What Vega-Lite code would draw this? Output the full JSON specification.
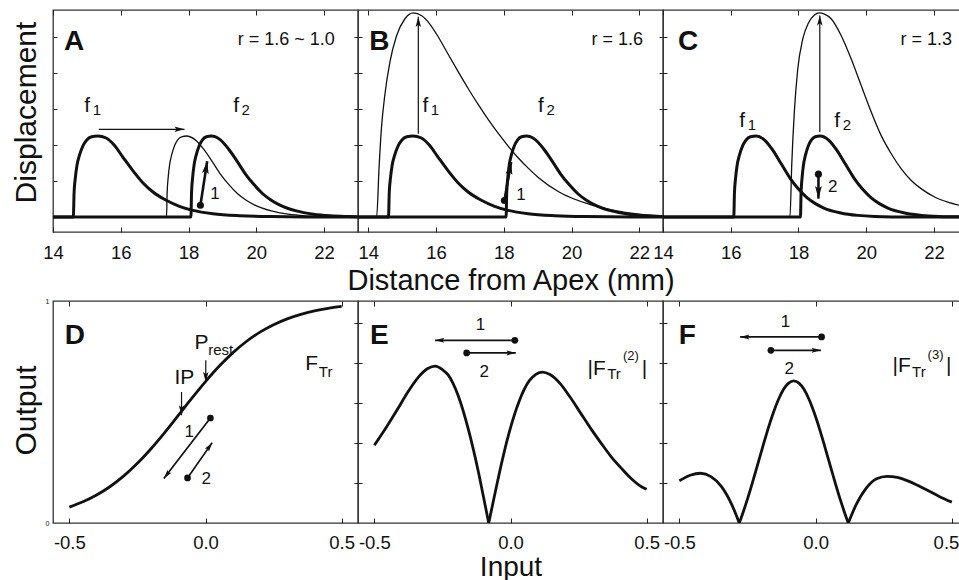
{
"$schema": "https://vega.github.io/schema/vega-lite/v6.json",
"padding": {"left": 10, "top": 8, "right": 0, "bottom": 0},
"autosize": {"type": "pad"},
"background": "white",
"columns": 3,
"spacing": {"row": 69, "column": 0},
"bounds": "flush",
"config": {
  "view": {"stroke": "#333", "strokeWidth": 1.3},
  "font": "Liberation Sans",
  "text": {"font": "Liberation Sans"},
  "axis": {"labelFont": "Liberation Sans", "titleFont": "Liberation Sans", "labelColor": "#111", "titleColor": "#111", "tickColor": "#222", "titleFontWeight": "normal", "grid": false, "domain": false, "labelFontSize": 18.5, "titleFontSize": 30, "labelFlush": false, "labelOverlap": false}
},
"datasets": {
"top": [
{"panel":"A","curve":"f1","state":"reference","x":14,"y":0},{"panel":"A","curve":"f1","state":"reference","x":14.6,"y":0},{"panel":"A","curve":"f1","state":"reference","x":14.622,"y":0.675},{"panel":"A","curve":"f1","state":"reference","x":14.658,"y":1.08},{"panel":"A","curve":"f1","state":"reference","x":14.708,"y":1.44},{"panel":"A","curve":"f1","state":"reference","x":14.78,"y":1.71},{"panel":"A","curve":"f1","state":"reference","x":14.888,"y":1.98},{"panel":"A","curve":"f1","state":"reference","x":14.996,"y":2.138},{"panel":"A","curve":"f1","state":"reference","x":15.14,"y":2.228},{"panel":"A","curve":"f1","state":"reference","x":15.32,"y":2.25},{"panel":"A","curve":"f1","state":"reference","x":15.57,"y":2.194},{"panel":"A","curve":"f1","state":"reference","x":15.81,"y":1.991},{"panel":"A","curve":"f1","state":"reference","x":16.06,"y":1.665},{"panel":"A","curve":"f1","state":"reference","x":16.35,"y":1.296},{"panel":"A","curve":"f1","state":"reference","x":16.65,"y":0.954},{"panel":"A","curve":"f1","state":"reference","x":16.95,"y":0.695},{"panel":"A","curve":"f1","state":"reference","x":17.34,"y":0.464},{"panel":"A","curve":"f1","state":"reference","x":17.73,"y":0.297},{"panel":"A","curve":"f1","state":"reference","x":18.13,"y":0.185},{"panel":"A","curve":"f1","state":"reference","x":18.72,"y":0.092},{"panel":"A","curve":"f1","state":"reference","x":19.51,"y":0.036},{"panel":"A","curve":"f1","state":"reference","x":20.39,"y":0.011},{"panel":"A","curve":"f1","state":"reference","x":21.82,"y":0},{"panel":"A","curve":"f1","state":"reference","x":23,"y":0},
{"panel":"A","curve":"f2","state":"reference","x":14,"y":0},{"panel":"A","curve":"f2","state":"reference","x":18.07,"y":0},{"panel":"A","curve":"f2","state":"reference","x":18.088,"y":0.675},{"panel":"A","curve":"f2","state":"reference","x":18.119,"y":1.08},{"panel":"A","curve":"f2","state":"reference","x":18.162,"y":1.44},{"panel":"A","curve":"f2","state":"reference","x":18.223,"y":1.71},{"panel":"A","curve":"f2","state":"reference","x":18.314,"y":1.98},{"panel":"A","curve":"f2","state":"reference","x":18.406,"y":2.138},{"panel":"A","curve":"f2","state":"reference","x":18.528,"y":2.228},{"panel":"A","curve":"f2","state":"reference","x":18.68,"y":2.25},{"panel":"A","curve":"f2","state":"reference","x":18.93,"y":2.149},{"panel":"A","curve":"f2","state":"reference","x":19.18,"y":1.89},{"panel":"A","curve":"f2","state":"reference","x":19.43,"y":1.553},{"panel":"A","curve":"f2","state":"reference","x":19.68,"y":1.193},{"panel":"A","curve":"f2","state":"reference","x":19.93,"y":0.9},{"panel":"A","curve":"f2","state":"reference","x":20.18,"y":0.653},{"panel":"A","curve":"f2","state":"reference","x":20.43,"y":0.473},{"panel":"A","curve":"f2","state":"reference","x":20.68,"y":0.338},{"panel":"A","curve":"f2","state":"reference","x":21.18,"y":0.169},{"panel":"A","curve":"f2","state":"reference","x":21.68,"y":0.079},{"panel":"A","curve":"f2","state":"reference","x":22.18,"y":0.034},{"panel":"A","curve":"f2","state":"reference","x":22.68,"y":0.014},{"panel":"A","curve":"f2","state":"reference","x":23,"y":0.006},
{"panel":"A","curve":"f1s","state":"altered","x":14,"y":0},{"panel":"A","curve":"f1s","state":"altered","x":17.35,"y":0},{"panel":"A","curve":"f1s","state":"altered","x":17.368,"y":0.675},{"panel":"A","curve":"f1s","state":"altered","x":17.397,"y":1.08},{"panel":"A","curve":"f1s","state":"altered","x":17.439,"y":1.44},{"panel":"A","curve":"f1s","state":"altered","x":17.498,"y":1.71},{"panel":"A","curve":"f1s","state":"altered","x":17.586,"y":1.98},{"panel":"A","curve":"f1s","state":"altered","x":17.675,"y":2.138},{"panel":"A","curve":"f1s","state":"altered","x":17.793,"y":2.228},{"panel":"A","curve":"f1s","state":"altered","x":17.94,"y":2.25},{"panel":"A","curve":"f1s","state":"altered","x":18.19,"y":2.149},{"panel":"A","curve":"f1s","state":"altered","x":18.44,"y":1.89},{"panel":"A","curve":"f1s","state":"altered","x":18.69,"y":1.553},{"panel":"A","curve":"f1s","state":"altered","x":18.94,"y":1.193},{"panel":"A","curve":"f1s","state":"altered","x":19.19,"y":0.9},{"panel":"A","curve":"f1s","state":"altered","x":19.44,"y":0.653},{"panel":"A","curve":"f1s","state":"altered","x":19.69,"y":0.473},{"panel":"A","curve":"f1s","state":"altered","x":19.94,"y":0.338},{"panel":"A","curve":"f1s","state":"altered","x":20.44,"y":0.169},{"panel":"A","curve":"f1s","state":"altered","x":20.94,"y":0.079},{"panel":"A","curve":"f1s","state":"altered","x":21.44,"y":0.034},{"panel":"A","curve":"f1s","state":"altered","x":21.94,"y":0.014},{"panel":"A","curve":"f1s","state":"altered","x":22.94,"y":0},{"panel":"A","curve":"f1s","state":"altered","x":23,"y":0},
{"panel":"B","curve":"f1","state":"reference","x":13.7,"y":0},{"panel":"B","curve":"f1","state":"reference","x":14.6,"y":0},{"panel":"B","curve":"f1","state":"reference","x":14.622,"y":0.675},{"panel":"B","curve":"f1","state":"reference","x":14.658,"y":1.08},{"panel":"B","curve":"f1","state":"reference","x":14.708,"y":1.44},{"panel":"B","curve":"f1","state":"reference","x":14.78,"y":1.71},{"panel":"B","curve":"f1","state":"reference","x":14.888,"y":1.98},{"panel":"B","curve":"f1","state":"reference","x":14.996,"y":2.138},{"panel":"B","curve":"f1","state":"reference","x":15.14,"y":2.228},{"panel":"B","curve":"f1","state":"reference","x":15.32,"y":2.25},{"panel":"B","curve":"f1","state":"reference","x":15.57,"y":2.194},{"panel":"B","curve":"f1","state":"reference","x":15.81,"y":1.991},{"panel":"B","curve":"f1","state":"reference","x":16.06,"y":1.665},{"panel":"B","curve":"f1","state":"reference","x":16.35,"y":1.296},{"panel":"B","curve":"f1","state":"reference","x":16.65,"y":0.954},{"panel":"B","curve":"f1","state":"reference","x":16.95,"y":0.695},{"panel":"B","curve":"f1","state":"reference","x":17.34,"y":0.464},{"panel":"B","curve":"f1","state":"reference","x":17.73,"y":0.297},{"panel":"B","curve":"f1","state":"reference","x":18.13,"y":0.185},{"panel":"B","curve":"f1","state":"reference","x":18.72,"y":0.092},{"panel":"B","curve":"f1","state":"reference","x":19.51,"y":0.036},{"panel":"B","curve":"f1","state":"reference","x":20.39,"y":0.011},{"panel":"B","curve":"f1","state":"reference","x":21.82,"y":0},{"panel":"B","curve":"f1","state":"reference","x":22.7,"y":0},
{"panel":"B","curve":"f2","state":"reference","x":13.7,"y":0},{"panel":"B","curve":"f2","state":"reference","x":18.07,"y":0},{"panel":"B","curve":"f2","state":"reference","x":18.088,"y":0.675},{"panel":"B","curve":"f2","state":"reference","x":18.119,"y":1.08},{"panel":"B","curve":"f2","state":"reference","x":18.162,"y":1.44},{"panel":"B","curve":"f2","state":"reference","x":18.223,"y":1.71},{"panel":"B","curve":"f2","state":"reference","x":18.314,"y":1.98},{"panel":"B","curve":"f2","state":"reference","x":18.406,"y":2.138},{"panel":"B","curve":"f2","state":"reference","x":18.528,"y":2.228},{"panel":"B","curve":"f2","state":"reference","x":18.68,"y":2.25},{"panel":"B","curve":"f2","state":"reference","x":18.93,"y":2.149},{"panel":"B","curve":"f2","state":"reference","x":19.18,"y":1.89},{"panel":"B","curve":"f2","state":"reference","x":19.43,"y":1.553},{"panel":"B","curve":"f2","state":"reference","x":19.68,"y":1.193},{"panel":"B","curve":"f2","state":"reference","x":19.93,"y":0.9},{"panel":"B","curve":"f2","state":"reference","x":20.18,"y":0.653},{"panel":"B","curve":"f2","state":"reference","x":20.43,"y":0.473},{"panel":"B","curve":"f2","state":"reference","x":20.68,"y":0.338},{"panel":"B","curve":"f2","state":"reference","x":21.18,"y":0.169},{"panel":"B","curve":"f2","state":"reference","x":21.68,"y":0.079},{"panel":"B","curve":"f2","state":"reference","x":22.18,"y":0.034},{"panel":"B","curve":"f2","state":"reference","x":22.7,"y":0.013},
{"panel":"B","curve":"f1a","state":"altered","x":13.7,"y":0},{"panel":"B","curve":"f1a","state":"altered","x":14.25,"y":0},{"panel":"B","curve":"f1a","state":"altered","x":14.32,"y":1.344},{"panel":"B","curve":"f1a","state":"altered","x":14.39,"y":2.449},{"panel":"B","curve":"f1a","state":"altered","x":14.49,"y":3.374},{"panel":"B","curve":"f1a","state":"altered","x":14.64,"y":4.292},{"panel":"B","curve":"f1a","state":"altered","x":14.84,"y":5.041},{"panel":"B","curve":"f1a","state":"altered","x":15.08,"y":5.5},{"panel":"B","curve":"f1a","state":"altered","x":15.33,"y":5.67},{"panel":"B","curve":"f1a","state":"altered","x":15.58,"y":5.59},{"panel":"B","curve":"f1a","state":"altered","x":15.82,"y":5.36},{"panel":"B","curve":"f1a","state":"altered","x":16.07,"y":5.0},{"panel":"B","curve":"f1a","state":"altered","x":16.36,"y":4.52},{"panel":"B","curve":"f1a","state":"altered","x":16.66,"y":4.03},{"panel":"B","curve":"f1a","state":"altered","x":16.95,"y":3.57},{"panel":"B","curve":"f1a","state":"altered","x":17.25,"y":3.12},{"panel":"B","curve":"f1a","state":"altered","x":17.55,"y":2.7},{"panel":"B","curve":"f1a","state":"altered","x":17.84,"y":2.32},{"panel":"B","curve":"f1a","state":"altered","x":18.13,"y":1.97},{"panel":"B","curve":"f1a","state":"altered","x":18.43,"y":1.64},{"panel":"B","curve":"f1a","state":"altered","x":18.73,"y":1.35},{"panel":"B","curve":"f1a","state":"altered","x":19.02,"y":1.1},{"panel":"B","curve":"f1a","state":"altered","x":19.62,"y":0.7},{"panel":"B","curve":"f1a","state":"altered","x":20.6,"y":0.33},{"panel":"B","curve":"f1a","state":"altered","x":21.59,"y":0.13},{"panel":"B","curve":"f1a","state":"altered","x":22.57,"y":0.04},{"panel":"B","curve":"f1a","state":"altered","x":22.7,"y":0.035},
{"panel":"C","curve":"f1","state":"reference","x":14,"y":0},{"panel":"C","curve":"f1","state":"reference","x":16.09,"y":0},{"panel":"C","curve":"f1","state":"reference","x":16.11,"y":0.675},{"panel":"C","curve":"f1","state":"reference","x":16.143,"y":1.08},{"panel":"C","curve":"f1","state":"reference","x":16.189,"y":1.44},{"panel":"C","curve":"f1","state":"reference","x":16.255,"y":1.71},{"panel":"C","curve":"f1","state":"reference","x":16.354,"y":1.98},{"panel":"C","curve":"f1","state":"reference","x":16.453,"y":2.138},{"panel":"C","curve":"f1","state":"reference","x":16.585,"y":2.228},{"panel":"C","curve":"f1","state":"reference","x":16.75,"y":2.25},{"panel":"C","curve":"f1","state":"reference","x":17,"y":2.138},{"panel":"C","curve":"f1","state":"reference","x":17.25,"y":1.845},{"panel":"C","curve":"f1","state":"reference","x":17.5,"y":1.463},{"panel":"C","curve":"f1","state":"reference","x":17.75,"y":1.08},{"panel":"C","curve":"f1","state":"reference","x":18,"y":0.776},{"panel":"C","curve":"f1","state":"reference","x":18.25,"y":0.54},{"panel":"C","curve":"f1","state":"reference","x":18.5,"y":0.371},{"panel":"C","curve":"f1","state":"reference","x":18.75,"y":0.248},{"panel":"C","curve":"f1","state":"reference","x":19.25,"y":0.113},{"panel":"C","curve":"f1","state":"reference","x":19.75,"y":0.045},{"panel":"C","curve":"f1","state":"reference","x":20.25,"y":0.016},{"panel":"C","curve":"f1","state":"reference","x":21.25,"y":0},{"panel":"C","curve":"f1","state":"reference","x":22.77,"y":0},
{"panel":"C","curve":"f2","state":"reference","x":14,"y":0},{"panel":"C","curve":"f2","state":"reference","x":18.06,"y":0},{"panel":"C","curve":"f2","state":"reference","x":18.077,"y":0.675},{"panel":"C","curve":"f2","state":"reference","x":18.106,"y":1.08},{"panel":"C","curve":"f2","state":"reference","x":18.147,"y":1.44},{"panel":"C","curve":"f2","state":"reference","x":18.205,"y":1.71},{"panel":"C","curve":"f2","state":"reference","x":18.292,"y":1.98},{"panel":"C","curve":"f2","state":"reference","x":18.379,"y":2.138},{"panel":"C","curve":"f2","state":"reference","x":18.495,"y":2.228},{"panel":"C","curve":"f2","state":"reference","x":18.64,"y":2.25},{"panel":"C","curve":"f2","state":"reference","x":18.89,"y":2.138},{"panel":"C","curve":"f2","state":"reference","x":19.14,"y":1.845},{"panel":"C","curve":"f2","state":"reference","x":19.39,"y":1.463},{"panel":"C","curve":"f2","state":"reference","x":19.64,"y":1.08},{"panel":"C","curve":"f2","state":"reference","x":19.89,"y":0.776},{"panel":"C","curve":"f2","state":"reference","x":20.14,"y":0.54},{"panel":"C","curve":"f2","state":"reference","x":20.39,"y":0.371},{"panel":"C","curve":"f2","state":"reference","x":20.64,"y":0.248},{"panel":"C","curve":"f2","state":"reference","x":21.14,"y":0.113},{"panel":"C","curve":"f2","state":"reference","x":21.64,"y":0.045},{"panel":"C","curve":"f2","state":"reference","x":22.14,"y":0.016},{"panel":"C","curve":"f2","state":"reference","x":22.77,"y":0.004},
{"panel":"C","curve":"f2a","state":"altered","x":14,"y":0},{"panel":"C","curve":"f2a","state":"altered","x":17.75,"y":0},{"panel":"C","curve":"f2a","state":"altered","x":17.8,"y":1.418},{"panel":"C","curve":"f2a","state":"altered","x":17.88,"y":2.948},{"panel":"C","curve":"f2a","state":"altered","x":17.976,"y":4.082},{"panel":"C","curve":"f2a","state":"altered","x":18.124,"y":4.933},{"panel":"C","curve":"f2a","state":"altered","x":18.294,"y":5.387},{"panel":"C","curve":"f2a","state":"altered","x":18.472,"y":5.613},{"panel":"C","curve":"f2a","state":"altered","x":18.62,"y":5.67},{"panel":"C","curve":"f2a","state":"altered","x":18.77,"y":5.636},{"panel":"C","curve":"f2a","state":"altered","x":18.965,"y":5.506},{"panel":"C","curve":"f2a","state":"altered","x":19.26,"y":5.041},{"panel":"C","curve":"f2a","state":"altered","x":19.555,"y":4.394},{"panel":"C","curve":"f2a","state":"altered","x":19.85,"y":3.657},{"panel":"C","curve":"f2a","state":"altered","x":20.15,"y":2.914},{"panel":"C","curve":"f2a","state":"altered","x":20.44,"y":2.268},{"panel":"C","curve":"f2a","state":"altered","x":20.74,"y":1.758},{"panel":"C","curve":"f2a","state":"altered","x":21.03,"y":1.344},{"panel":"C","curve":"f2a","state":"altered","x":21.33,"y":1.015},{"panel":"C","curve":"f2a","state":"altered","x":21.62,"y":0.788},{"panel":"C","curve":"f2a","state":"altered","x":22.02,"y":0.556},{"panel":"C","curve":"f2a","state":"altered","x":22.41,"y":0.414},{"panel":"C","curve":"f2a","state":"altered","x":22.77,"y":0.323}
],
"bottom": [
{"panel":"D","segment":"s","x":-0.5,"y":0.0716},{"panel":"D","segment":"s","x":-0.45,"y":0.0953},{"panel":"D","segment":"s","x":-0.4,"y":0.126},{"panel":"D","segment":"s","x":-0.35,"y":0.1645},{"panel":"D","segment":"s","x":-0.3,"y":0.2121},{"panel":"D","segment":"s","x":-0.25,"y":0.2689},{"panel":"D","segment":"s","x":-0.2,"y":0.3346},{"panel":"D","segment":"s","x":-0.15,"y":0.4073},{"panel":"D","segment":"s","x":-0.1,"y":0.4844},{"panel":"D","segment":"s","x":-0.05,"y":0.5622},{"panel":"D","segment":"s","x":0,"y":0.637},{"panel":"D","segment":"s","x":0.05,"y":0.7058},{"panel":"D","segment":"s","x":0.1,"y":0.7663},{"panel":"D","segment":"s","x":0.15,"y":0.8176},{"panel":"D","segment":"s","x":0.2,"y":0.8597},{"panel":"D","segment":"s","x":0.25,"y":0.8933},{"panel":"D","segment":"s","x":0.3,"y":0.9197},{"panel":"D","segment":"s","x":0.35,"y":0.9399},{"panel":"D","segment":"s","x":0.4,"y":0.9553},{"panel":"D","segment":"s","x":0.45,"y":0.9669},{"panel":"D","segment":"s","x":0.5,"y":0.9756},
{"panel":"E","segment":"L","x":-0.5,"y":0.35},{"panel":"E","segment":"L","x":-0.453,"y":0.437},{"panel":"E","segment":"L","x":-0.415,"y":0.512},{"panel":"E","segment":"L","x":-0.378,"y":0.588},{"panel":"E","segment":"L","x":-0.341,"y":0.653},{"panel":"E","segment":"L","x":-0.304,"y":0.696},{"panel":"E","segment":"L","x":-0.276,"y":0.707},{"panel":"E","segment":"L","x":-0.25,"y":0.691},{"panel":"E","segment":"L","x":-0.229,"y":0.667},{"panel":"E","segment":"L","x":-0.192,"y":0.573},{"panel":"E","segment":"L","x":-0.155,"y":0.423},{"panel":"E","segment":"L","x":-0.117,"y":0.225},{"panel":"E","segment":"L","x":-0.0986,"y":0.114},{"panel":"E","segment":"L","x":-0.08,"y":0},
{"panel":"E","segment":"R","x":-0.08,"y":0},{"panel":"E","segment":"R","x":-0.061,"y":0.11},{"panel":"E","segment":"R","x":-0.0425,"y":0.216},{"panel":"E","segment":"R","x":-0.005,"y":0.407},{"panel":"E","segment":"R","x":0.0325,"y":0.551},{"panel":"E","segment":"R","x":0.07,"y":0.642},{"panel":"E","segment":"R","x":0.1175,"y":0.68},{"panel":"E","segment":"R","x":0.145,"y":0.669},{"panel":"E","segment":"R","x":0.1825,"y":0.628},{"panel":"E","segment":"R","x":0.22,"y":0.565},{"panel":"E","segment":"R","x":0.2575,"y":0.495},{"panel":"E","segment":"R","x":0.295,"y":0.425},{"panel":"E","segment":"R","x":0.3325,"y":0.36},{"panel":"E","segment":"R","x":0.37,"y":0.298},{"panel":"E","segment":"R","x":0.4075,"y":0.246},{"panel":"E","segment":"R","x":0.445,"y":0.198},{"panel":"E","segment":"R","x":0.4825,"y":0.162},{"panel":"E","segment":"R","x":0.5,"y":0.152},
{"panel":"F","segment":"L","x":-0.5,"y":0.19},{"panel":"F","segment":"L","x":-0.46,"y":0.215},{"panel":"F","segment":"L","x":-0.422,"y":0.224},{"panel":"F","segment":"L","x":-0.384,"y":0.209},{"panel":"F","segment":"L","x":-0.346,"y":0.165},{"panel":"F","segment":"L","x":-0.308,"y":0.084},{"panel":"F","segment":"L","x":-0.28,"y":0},
{"panel":"F","segment":"M","x":-0.28,"y":0},{"panel":"F","segment":"M","x":-0.27,"y":0.034},{"panel":"F","segment":"M","x":-0.251,"y":0.104},{"panel":"F","segment":"M","x":-0.232,"y":0.181},{"panel":"F","segment":"M","x":-0.213,"y":0.262},{"panel":"F","segment":"M","x":-0.194,"y":0.343},{"panel":"F","segment":"M","x":-0.175,"y":0.422},{"panel":"F","segment":"M","x":-0.156,"y":0.493},{"panel":"F","segment":"M","x":-0.137,"y":0.554},{"panel":"F","segment":"M","x":-0.118,"y":0.601},{"panel":"F","segment":"M","x":-0.099,"y":0.63},{"panel":"F","segment":"M","x":-0.08,"y":0.64},{"panel":"F","segment":"M","x":-0.061,"y":0.63},{"panel":"F","segment":"M","x":-0.042,"y":0.601},{"panel":"F","segment":"M","x":-0.023,"y":0.554},{"panel":"F","segment":"M","x":-0.004,"y":0.493},{"panel":"F","segment":"M","x":0.015,"y":0.422},{"panel":"F","segment":"M","x":0.034,"y":0.343},{"panel":"F","segment":"M","x":0.053,"y":0.262},{"panel":"F","segment":"M","x":0.072,"y":0.181},{"panel":"F","segment":"M","x":0.091,"y":0.104},{"panel":"F","segment":"M","x":0.11,"y":0.034},{"panel":"F","segment":"M","x":0.12,"y":0},
{"panel":"F","segment":"R","x":0.12,"y":0},{"panel":"F","segment":"R","x":0.148,"y":0.08},{"panel":"F","segment":"R","x":0.186,"y":0.157},{"panel":"F","segment":"R","x":0.224,"y":0.199},{"panel":"F","segment":"R","x":0.262,"y":0.21},{"panel":"F","segment":"R","x":0.3,"y":0.205},{"panel":"F","segment":"R","x":0.338,"y":0.19},{"panel":"F","segment":"R","x":0.376,"y":0.169},{"panel":"F","segment":"R","x":0.414,"y":0.145},{"panel":"F","segment":"R","x":0.452,"y":0.121},{"panel":"F","segment":"R","x":0.5,"y":0.094}
],
"arrows": [
{"panel":"A","kind":"thin","dir":"right","x":17.88,"y":2.435,"x2":15.35,"y2":2.435},
{"panel":"A","kind":"thick","dir":"tilt9","x":18.55,"y":1.55,"x2":18.35,"y2":0.325},
{"panel":"B","kind":"thin","dir":"up","x":15.48,"y":5.56,"x2":15.48,"y2":2.31},
{"panel":"B","kind":"thick","dir":"tilt10","x":18.22,"y":1.53,"x2":18.02,"y2":0.46},
{"panel":"C","kind":"thin","dir":"up","x":18.63,"y":5.6,"x2":18.63,"y2":2.36},
{"panel":"C","kind":"thick","dir":"down","x":18.59,"y":0.51,"x2":18.59,"y2":1.19},
{"panel":"D","kind":"thin","dir":"down","x":0.001,"y":0.635,"x2":0.001,"y2":0.733},
{"panel":"D","kind":"thin","dir":"down","x":-0.088,"y":0.485,"x2":-0.088,"y2":0.59},
{"panel":"D","kind":"medium","dir":"downleft","x":-0.153,"y":0.2,"x2":0.018,"y2":0.473},
{"panel":"D","kind":"medium","dir":"upright","x":0.0245,"y":0.362,"x2":-0.066,"y2":0.203},
{"panel":"E","kind":"medium","dir":"left","x":-0.277,"y":0.823,"x2":0.016,"y2":0.823},
{"panel":"E","kind":"medium","dir":"right","x":0.0195,"y":0.766,"x2":-0.161,"y2":0.766},
{"panel":"F","kind":"medium","dir":"left","x":-0.277,"y":0.838,"x2":0.022,"y2":0.838},
{"panel":"F","kind":"medium","dir":"right","x":0.0195,"y":0.778,"x2":-0.164,"y2":0.778}
],
"dots": [
{"panel":"A","x":18.35,"y":0.325},{"panel":"B","x":18.02,"y":0.46},{"panel":"C","x":18.59,"y":1.19},
{"panel":"D","x":0.018,"y":0.473},{"panel":"D","x":-0.066,"y":0.203},
{"panel":"E","x":0.016,"y":0.823},{"panel":"E","x":-0.161,"y":0.766},
{"panel":"F","x":0.022,"y":0.838},{"panel":"F","x":-0.164,"y":0.778}
],
"labels": [
{"panel":"A","role":"letter","text":"A","x":14.325,"y":4.64},
{"panel":"A","role":"ratio","text":"r = 1.6 ~ 1.0","x":19.45,"y":4.78},
{"panel":"A","role":"symbol","text":"f","x":14.92,"y":2.92},
{"panel":"A","role":"sub","text":"1","x":15.17,"y":2.83},
{"panel":"A","role":"symbol","text":"f","x":19.32,"y":2.92},
{"panel":"A","role":"sub","text":"2","x":19.56,"y":2.83},
{"panel":"A","role":"num","text":"1","x":18.64,"y":0.5},
{"panel":"B","role":"letter","text":"B","x":14.03,"y":4.64},
{"panel":"B","role":"ratio","text":"r = 1.6","x":20.59,"y":4.78},
{"panel":"B","role":"symbol","text":"f","x":15.6,"y":2.92},
{"panel":"B","role":"sub","text":"1","x":15.85,"y":2.83},
{"panel":"B","role":"symbol","text":"f","x":19.01,"y":2.92},
{"panel":"B","role":"sub","text":"2","x":19.26,"y":2.83},
{"panel":"B","role":"num","text":"1","x":18.37,"y":0.47},
{"panel":"C","role":"letter","text":"C","x":14.44,"y":4.64},
{"panel":"C","role":"ratio","text":"r = 1.3","x":21.01,"y":4.78},
{"panel":"C","role":"symbol","text":"f","x":16.25,"y":2.5},
{"panel":"C","role":"sub","text":"1","x":16.5,"y":2.42},
{"panel":"C","role":"symbol","text":"f","x":19.06,"y":2.5},
{"panel":"C","role":"sub","text":"2","x":19.31,"y":2.42},
{"panel":"C","role":"num","text":"2","x":18.87,"y":0.69},
{"panel":"D","role":"letter","text":"D","x":-0.517,"y":0.806},
{"panel":"D","role":"symbol","text":"P","x":-0.04,"y":0.785},
{"panel":"D","role":"sub","text":"rest","x":0.01,"y":0.757},
{"panel":"D","role":"symbol","text":"IP","x":-0.114,"y":0.627},
{"panel":"D","role":"symbol","text":"F","x":0.366,"y":0.689},
{"panel":"D","role":"sub","text":"Tr","x":0.416,"y":0.658},
{"panel":"D","role":"num","text":"1","x":-0.077,"y":0.387},
{"panel":"D","role":"num","text":"2","x":-0.015,"y":0.177},
{"panel":"E","role":"letter","text":"E","x":-0.516,"y":0.806},
{"panel":"E","role":"num","text":"1","x":-0.128,"y":0.869},
{"panel":"E","role":"num","text":"2","x":-0.114,"y":0.658},
{"panel":"E","role":"symbol","text":"|F","x":0.283,"y":0.667},
{"panel":"E","role":"sub","text":"Tr","x":0.355,"y":0.649},
{"panel":"E","role":"sup","text":"(2)","x":0.413,"y":0.734},
{"panel":"E","role":"symbol","text":"|","x":0.482,"y":0.667},
{"panel":"F","role":"letter","text":"F","x":-0.502,"y":0.806},
{"panel":"F","role":"num","text":"1","x":-0.128,"y":0.883},
{"panel":"F","role":"num","text":"2","x":-0.114,"y":0.672},
{"panel":"F","role":"symbol","text":"|F","x":0.282,"y":0.68},
{"panel":"F","role":"sub","text":"Tr","x":0.354,"y":0.658},
{"panel":"F","role":"sup","text":"(3)","x":0.411,"y":0.74},
{"panel":"F","role":"symbol","text":"|","x":0.479,"y":0.68}
]
},
"concat": [
{
 "width": 305, "height": 222,
 "encoding": {
  "x": {"field": "x", "type": "quantitative", "scale": {"domain": [14, 23], "nice": false, "zero": false}, "axis": null},
  "y": {"field": "y", "type": "quantitative", "scale": {"domain": [-0.4167, 5.75], "nice": false, "zero": false}, "axis": null}
 },
 "layer": [
  {"data": {"name": "top"}, "transform": [{"filter": "datum.panel === 'A' && datum.state === 'reference'"}],
   "mark": {"type": "line", "interpolate": "monotone", "strokeWidth": 3, "color": "#111", "clip": true},
   "encoding": {
    "x": {"field": "x", "type": "quantitative", "scale": {"domain": [14, 23], "nice": false, "zero": false}, "axis": {"orient": "bottom", "values": [14,16,18,20,22], "tickSize": -5, "labelPadding": 31, "labelBaseline": "alphabetic", "title": null}},
    "y": {"field": "y", "type": "quantitative", "scale": {"domain": [-0.4167, 5.75], "nice": false, "zero": false}, "axis": {"orient": "left", "values": [0,1,2,3,4,5], "tickSize": -4, "labels": false, "title": "Displacement", "titleX": -18, "titleY": 102, "titleAngle": 270, "titleBaseline": "alphabetic", "titleAlign": "center"}},
    "detail": {"field": "curve"}}},
  {"data": {"name": "top"}, "transform": [{"filter": "datum.panel === 'A' && datum.state === 'altered'"}],
   "mark": {"type": "line", "interpolate": "monotone", "strokeWidth": 1.3, "color": "#111", "clip": true},
   "encoding": {
    "x": {"field": "x", "type": "quantitative", "scale": {"domain": [14, 23], "nice": false, "zero": false}, "axis": {"orient": "top", "values": [14,16,18,20,22], "tickSize": -5, "labels": false, "title": null}},
    "y": {"field": "y", "type": "quantitative", "scale": {"domain": [-0.4167, 5.75], "nice": false, "zero": false}, "axis": {"orient": "right", "values": [0,1,2,3,4,5], "tickSize": -4, "labels": false, "title": null}},
    "detail": {"field": "curve"}}},
  {"data": {"name": "arrows"}, "transform": [{"filter": "datum.panel === 'A'"}],
   "mark": {"type": "rule", "color": "#111"},
   "encoding": {"x2": {"field": "x2"}, "y2": {"field": "y2"}, "strokeWidth": {"field": "kind", "type": "ordinal", "scale": {"type": "ordinal", "domain": ["thin","medium","thick"], "range": [1.2, 1.7, 2.6]}, "legend": null}}},
  {"data": {"name": "arrows"}, "transform": [{"filter": "datum.panel === 'A'"}],
   "mark": {"type": "point", "shape": "M0,0L0.65,2.4L0,1.9L-0.65,2.4Z", "filled": true, "color": "#111", "opacity": 1, "strokeWidth": 0},
   "encoding": {"angle": {"field": "dir", "type": "ordinal", "scale": {"type": "ordinal", "domain": ["up","down","left","right","tilt9","tilt10","downleft","upright"], "range": [0,180,270,90,8.7,9.9,217.6,35]}, "legend": null}, "size": {"field": "kind", "type": "ordinal", "scale": {"type": "ordinal", "domain": ["thin","medium","thick"], "range": [70, 60, 110]}, "legend": null}}},
  {"data": {"name": "dots"}, "transform": [{"filter": "datum.panel === 'A'"}],
   "mark": {"type": "point", "shape": "circle", "filled": true, "color": "#111", "opacity": 1, "size": 50}},
  {"data": {"name": "labels"}, "transform": [{"filter": "datum.panel === 'A' && datum.role !== 'letter'"}],
   "mark": {"type": "text", "align": "left", "baseline": "alphabetic", "color": "#111"},
   "encoding": {"text": {"field": "text"}, "size": {"field": "role", "type": "ordinal", "scale": {"type": "ordinal", "domain": ["ratio","symbol","sub","sup","num"], "range": [18,21,15,13,17]}, "legend": null}}},
  {"data": {"name": "labels"}, "transform": [{"filter": "datum.panel === 'A' && datum.role === 'letter'"}],
   "mark": {"type": "text", "align": "left", "baseline": "alphabetic", "fontSize": 28, "fontWeight": "bold", "color": "#111"},
   "encoding": {"text": {"field": "text"}}}
 ],
 "resolve": {"axis": {"x": "independent", "y": "independent"}, "scale": {"size": "independent"}}
},
{
 "width": 305, "height": 222,
 "encoding": {
  "x": {"field": "x", "type": "quantitative", "scale": {"domain": [13.7, 22.7], "nice": false, "zero": false}, "axis": null},
  "y": {"field": "y", "type": "quantitative", "scale": {"domain": [-0.4167, 5.75], "nice": false, "zero": false}, "axis": null}
 },
 "layer": [
  {"data": {"name": "top"}, "transform": [{"filter": "datum.panel === 'B' && datum.state === 'reference'"}],
   "mark": {"type": "line", "interpolate": "monotone", "strokeWidth": 3, "color": "#111", "clip": true},
   "encoding": {
    "x": {"field": "x", "type": "quantitative", "scale": {"domain": [13.7, 22.7], "nice": false, "zero": false}, "axis": {"orient": "bottom", "values": [14,16,18,20,22], "tickSize": -5, "labelPadding": 31, "labelBaseline": "alphabetic", "title": "Distance from Apex (mm)", "titleY": 57, "titleFontSize": 29, "titleBaseline": "alphabetic"}},
    "y": {"field": "y", "type": "quantitative", "scale": {"domain": [-0.4167, 5.75], "nice": false, "zero": false}, "axis": {"orient": "left", "values": [0,1,2,3,4,5], "tickSize": -4, "labels": false, "title": null}},
    "detail": {"field": "curve"}}},
  {"data": {"name": "top"}, "transform": [{"filter": "datum.panel === 'B' && datum.state === 'altered'"}],
   "mark": {"type": "line", "interpolate": "monotone", "strokeWidth": 1.3, "color": "#111", "clip": true},
   "encoding": {
    "x": {"field": "x", "type": "quantitative", "scale": {"domain": [13.7, 22.7], "nice": false, "zero": false}, "axis": {"orient": "top", "values": [14,16,18,20,22], "tickSize": -5, "labels": false, "title": null}},
    "y": {"field": "y", "type": "quantitative", "scale": {"domain": [-0.4167, 5.75], "nice": false, "zero": false}, "axis": {"orient": "right", "values": [0,1,2,3,4,5], "tickSize": -4, "labels": false, "title": null}},
    "detail": {"field": "curve"}}},
  {"data": {"name": "arrows"}, "transform": [{"filter": "datum.panel === 'B'"}],
   "mark": {"type": "rule", "color": "#111"},
   "encoding": {"x2": {"field": "x2"}, "y2": {"field": "y2"}, "strokeWidth": {"field": "kind", "type": "ordinal", "scale": {"type": "ordinal", "domain": ["thin","medium","thick"], "range": [1.2, 1.7, 2.6]}, "legend": null}}},
  {"data": {"name": "arrows"}, "transform": [{"filter": "datum.panel === 'B'"}],
   "mark": {"type": "point", "shape": "M0,0L0.65,2.4L0,1.9L-0.65,2.4Z", "filled": true, "color": "#111", "opacity": 1, "strokeWidth": 0},
   "encoding": {"angle": {"field": "dir", "type": "ordinal", "scale": {"type": "ordinal", "domain": ["up","down","left","right","tilt9","tilt10","downleft","upright"], "range": [0,180,270,90,8.7,9.9,217.6,35]}, "legend": null}, "size": {"field": "kind", "type": "ordinal", "scale": {"type": "ordinal", "domain": ["thin","medium","thick"], "range": [70, 60, 110]}, "legend": null}}},
  {"data": {"name": "dots"}, "transform": [{"filter": "datum.panel === 'B'"}],
   "mark": {"type": "point", "shape": "circle", "filled": true, "color": "#111", "opacity": 1, "size": 50}},
  {"data": {"name": "labels"}, "transform": [{"filter": "datum.panel === 'B' && datum.role !== 'letter'"}],
   "mark": {"type": "text", "align": "left", "baseline": "alphabetic", "color": "#111"},
   "encoding": {"text": {"field": "text"}, "size": {"field": "role", "type": "ordinal", "scale": {"type": "ordinal", "domain": ["ratio","symbol","sub","sup","num"], "range": [18,21,15,13,17]}, "legend": null}}},
  {"data": {"name": "labels"}, "transform": [{"filter": "datum.panel === 'B' && datum.role === 'letter'"}],
   "mark": {"type": "text", "align": "left", "baseline": "alphabetic", "fontSize": 28, "fontWeight": "bold", "color": "#111"},
   "encoding": {"text": {"field": "text"}}}
 ],
 "resolve": {"axis": {"x": "independent", "y": "independent"}, "scale": {"size": "independent"}}
},
{
 "width": 297, "height": 222,
 "encoding": {
  "x": {"field": "x", "type": "quantitative", "scale": {"domain": [14, 22.77], "nice": false, "zero": false}, "axis": null},
  "y": {"field": "y", "type": "quantitative", "scale": {"domain": [-0.4167, 5.75], "nice": false, "zero": false}, "axis": null}
 },
 "layer": [
  {"data": {"name": "top"}, "transform": [{"filter": "datum.panel === 'C' && datum.state === 'reference'"}],
   "mark": {"type": "line", "interpolate": "monotone", "strokeWidth": 3, "color": "#111", "clip": true},
   "encoding": {
    "x": {"field": "x", "type": "quantitative", "scale": {"domain": [14, 22.77], "nice": false, "zero": false}, "axis": {"orient": "bottom", "values": [14,16,18,20,22], "tickSize": -5, "labelPadding": 31, "labelBaseline": "alphabetic", "title": null}},
    "y": {"field": "y", "type": "quantitative", "scale": {"domain": [-0.4167, 5.75], "nice": false, "zero": false}, "axis": {"orient": "left", "values": [0,1,2,3,4,5], "tickSize": -4, "labels": false, "title": null}},
    "detail": {"field": "curve"}}},
  {"data": {"name": "top"}, "transform": [{"filter": "datum.panel === 'C' && datum.state === 'altered'"}],
   "mark": {"type": "line", "interpolate": "monotone", "strokeWidth": 1.3, "color": "#111", "clip": true},
   "encoding": {
    "x": {"field": "x", "type": "quantitative", "scale": {"domain": [14, 22.77], "nice": false, "zero": false}, "axis": {"orient": "top", "values": [14,16,18,20,22], "tickSize": -5, "labels": false, "title": null}},
    "y": {"field": "y", "type": "quantitative", "scale": {"domain": [-0.4167, 5.75], "nice": false, "zero": false}, "axis": null},
    "detail": {"field": "curve"}}},
  {"data": {"name": "arrows"}, "transform": [{"filter": "datum.panel === 'C'"}],
   "mark": {"type": "rule", "color": "#111"},
   "encoding": {"x2": {"field": "x2"}, "y2": {"field": "y2"}, "strokeWidth": {"field": "kind", "type": "ordinal", "scale": {"type": "ordinal", "domain": ["thin","medium","thick"], "range": [1.2, 1.7, 2.6]}, "legend": null}}},
  {"data": {"name": "arrows"}, "transform": [{"filter": "datum.panel === 'C'"}],
   "mark": {"type": "point", "shape": "M0,0L0.65,2.4L0,1.9L-0.65,2.4Z", "filled": true, "color": "#111", "opacity": 1, "strokeWidth": 0},
   "encoding": {"angle": {"field": "dir", "type": "ordinal", "scale": {"type": "ordinal", "domain": ["up","down","left","right","tilt9","tilt10","downleft","upright"], "range": [0,180,270,90,8.7,9.9,217.6,35]}, "legend": null}, "size": {"field": "kind", "type": "ordinal", "scale": {"type": "ordinal", "domain": ["thin","medium","thick"], "range": [70, 60, 110]}, "legend": null}}},
  {"data": {"name": "dots"}, "transform": [{"filter": "datum.panel === 'C'"}],
   "mark": {"type": "point", "shape": "circle", "filled": true, "color": "#111", "opacity": 1, "size": 50}},
  {"data": {"name": "labels"}, "transform": [{"filter": "datum.panel === 'C' && datum.role !== 'letter'"}],
   "mark": {"type": "text", "align": "left", "baseline": "alphabetic", "color": "#111"},
   "encoding": {"text": {"field": "text"}, "size": {"field": "role", "type": "ordinal", "scale": {"type": "ordinal", "domain": ["ratio","symbol","sub","sup","num"], "range": [18,21,15,13,17]}, "legend": null}}},
  {"data": {"name": "labels"}, "transform": [{"filter": "datum.panel === 'C' && datum.role === 'letter'"}],
   "mark": {"type": "text", "align": "left", "baseline": "alphabetic", "fontSize": 28, "fontWeight": "bold", "color": "#111"},
   "encoding": {"text": {"field": "text"}}}
 ],
 "resolve": {"axis": {"x": "independent", "y": "independent"}, "scale": {"size": "independent"}}
},
{
 "width": 305, "height": 222,
 "encoding": {
  "x": {"field": "x", "type": "quantitative", "scale": {"domain": [-0.56, 0.56], "nice": false, "zero": false}, "axis": null},
  "y": {"field": "y", "type": "quantitative", "scale": {"domain": [0, 1], "nice": false, "zero": false}, "axis": null}
 },
 "layer": [
  {"data": {"name": "bottom"}, "transform": [{"filter": "datum.panel === 'D'"}],
   "mark": {"type": "line", "interpolate": "monotone", "strokeWidth": 2.8, "color": "#111", "clip": true},
   "encoding": {
    "x": {"field": "x", "type": "quantitative", "scale": {"domain": [-0.56, 0.56], "nice": false, "zero": false}, "axis": {"orient": "bottom", "values": [-0.5,0,0.5], "tickSize": -5, "labelPadding": 30, "labelBaseline": "alphabetic", "labelExpr": "datum.value < 0 ? '-' + format(-datum.value, '.1f') : format(datum.value, '.1f')", "title": null}},
    "y": {"field": "y", "type": "quantitative", "scale": {"domain": [0, 1], "nice": false, "zero": false}, "axis": {"orient": "left", "values": [0,1], "ticks": false, "labelFontSize": 7, "labelPadding": 4, "labelExpr": "datum.value > 0.5 ? '1' : '0'", "title": "Output", "titleX": -18, "titleY": 109, "titleAngle": 270, "titleBaseline": "alphabetic", "titleAlign": "center"}},
    "detail": {"field": "segment"}}},
  {"data": {"name": "arrows"}, "transform": [{"filter": "datum.panel === 'D'"}],
   "mark": {"type": "rule", "color": "#111"},
   "encoding": {
    "x": {"field": "x", "type": "quantitative", "scale": {"domain": [-0.56, 0.56], "nice": false, "zero": false}, "axis": {"orient": "top", "values": [-0.5,0,0.5], "tickSize": -5, "labels": false, "title": null}},
    "y": {"field": "y", "type": "quantitative", "scale": {"domain": [0, 1], "nice": false, "zero": false}, "axis": {"orient": "right", "values": [0.18,0.36,0.54,0.72,0.9], "tickSize": -4, "labels": false, "title": null}},
    "x2": {"field": "x2"}, "y2": {"field": "y2"}, "strokeWidth": {"field": "kind", "type": "ordinal", "scale": {"type": "ordinal", "domain": ["thin","medium","thick"], "range": [1.2, 1.7, 2.6]}, "legend": null}}},
  {"data": {"name": "arrows"}, "transform": [{"filter": "datum.panel === 'D'"}],
   "mark": {"type": "point", "shape": "M0,0L0.65,2.4L0,1.9L-0.65,2.4Z", "filled": true, "color": "#111", "opacity": 1, "strokeWidth": 0},
   "encoding": {"angle": {"field": "dir", "type": "ordinal", "scale": {"type": "ordinal", "domain": ["up","down","left","right","tilt9","tilt10","downleft","upright"], "range": [0,180,270,90,8.7,9.9,217.6,35]}, "legend": null}, "size": {"field": "kind", "type": "ordinal", "scale": {"type": "ordinal", "domain": ["thin","medium","thick"], "range": [70, 60, 110]}, "legend": null}}},
  {"data": {"name": "dots"}, "transform": [{"filter": "datum.panel === 'D'"}],
   "mark": {"type": "point", "shape": "circle", "filled": true, "color": "#111", "opacity": 1, "size": 45}},
  {"data": {"name": "labels"}, "transform": [{"filter": "datum.panel === 'D' && datum.role !== 'letter'"}],
   "mark": {"type": "text", "align": "left", "baseline": "alphabetic", "color": "#111"},
   "encoding": {"text": {"field": "text"}, "size": {"field": "role", "type": "ordinal", "scale": {"type": "ordinal", "domain": ["ratio","symbol","sub","sup","num"], "range": [18,21,15,13,17]}, "legend": null}}},
  {"data": {"name": "labels"}, "transform": [{"filter": "datum.panel === 'D' && datum.role === 'letter'"}],
   "mark": {"type": "text", "align": "left", "baseline": "alphabetic", "fontSize": 28, "fontWeight": "bold", "color": "#111"},
   "encoding": {"text": {"field": "text"}}}
 ],
 "resolve": {"axis": {"x": "independent", "y": "independent"}, "scale": {"size": "independent"}}
},
{
 "width": 305, "height": 222,
 "encoding": {
  "x": {"field": "x", "type": "quantitative", "scale": {"domain": [-0.56, 0.56], "nice": false, "zero": false}, "axis": null},
  "y": {"field": "y", "type": "quantitative", "scale": {"domain": [0, 1], "nice": false, "zero": false}, "axis": null}
 },
 "layer": [
  {"data": {"name": "bottom"}, "transform": [{"filter": "datum.panel === 'E'"}],
   "mark": {"type": "line", "interpolate": "monotone", "strokeWidth": 2.8, "color": "#111", "clip": true},
   "encoding": {
    "x": {"field": "x", "type": "quantitative", "scale": {"domain": [-0.56, 0.56], "nice": false, "zero": false}, "axis": {"orient": "bottom", "values": [-0.5,0,0.5], "tickSize": -5, "labelPadding": 30, "labelBaseline": "alphabetic", "labelExpr": "datum.value < 0 ? '-' + format(-datum.value, '.1f') : format(datum.value, '.1f')", "title": "Input", "titleY": 52, "titleFontSize": 28, "titleBaseline": "alphabetic"}},
    "y": {"field": "y", "type": "quantitative", "scale": {"domain": [0, 1], "nice": false, "zero": false}, "axis": {"orient": "left", "values": [0.18,0.36,0.54,0.72,0.9], "tickSize": -4, "labels": false, "title": null}},
    "detail": {"field": "segment"}}},
  {"data": {"name": "arrows"}, "transform": [{"filter": "datum.panel === 'E'"}],
   "mark": {"type": "rule", "color": "#111"},
   "encoding": {
    "x": {"field": "x", "type": "quantitative", "scale": {"domain": [-0.56, 0.56], "nice": false, "zero": false}, "axis": {"orient": "top", "values": [-0.5,0,0.5], "tickSize": -5, "labels": false, "title": null}},
    "y": {"field": "y", "type": "quantitative", "scale": {"domain": [0, 1], "nice": false, "zero": false}, "axis": {"orient": "right", "values": [0.18,0.36,0.54,0.72,0.9], "tickSize": -4, "labels": false, "title": null}},
    "x2": {"field": "x2"}, "y2": {"field": "y2"}, "strokeWidth": {"field": "kind", "type": "ordinal", "scale": {"type": "ordinal", "domain": ["thin","medium","thick"], "range": [1.2, 1.7, 2.6]}, "legend": null}}},
  {"data": {"name": "arrows"}, "transform": [{"filter": "datum.panel === 'E'"}],
   "mark": {"type": "point", "shape": "M0,0L0.65,2.4L0,1.9L-0.65,2.4Z", "filled": true, "color": "#111", "opacity": 1, "strokeWidth": 0},
   "encoding": {"angle": {"field": "dir", "type": "ordinal", "scale": {"type": "ordinal", "domain": ["up","down","left","right","tilt9","tilt10","downleft","upright"], "range": [0,180,270,90,8.7,9.9,217.6,35]}, "legend": null}, "size": {"field": "kind", "type": "ordinal", "scale": {"type": "ordinal", "domain": ["thin","medium","thick"], "range": [70, 60, 110]}, "legend": null}}},
  {"data": {"name": "dots"}, "transform": [{"filter": "datum.panel === 'E'"}],
   "mark": {"type": "point", "shape": "circle", "filled": true, "color": "#111", "opacity": 1, "size": 45}},
  {"data": {"name": "labels"}, "transform": [{"filter": "datum.panel === 'E' && datum.role !== 'letter'"}],
   "mark": {"type": "text", "align": "left", "baseline": "alphabetic", "color": "#111"},
   "encoding": {"text": {"field": "text"}, "size": {"field": "role", "type": "ordinal", "scale": {"type": "ordinal", "domain": ["ratio","symbol","sub","sup","num"], "range": [18,21,15,13,17]}, "legend": null}}},
  {"data": {"name": "labels"}, "transform": [{"filter": "datum.panel === 'E' && datum.role === 'letter'"}],
   "mark": {"type": "text", "align": "left", "baseline": "alphabetic", "fontSize": 28, "fontWeight": "bold", "color": "#111"},
   "encoding": {"text": {"field": "text"}}}
 ],
 "resolve": {"axis": {"x": "independent", "y": "independent"}, "scale": {"size": "independent"}}
},
{
 "width": 297, "height": 222,
 "encoding": {
  "x": {"field": "x", "type": "quantitative", "scale": {"domain": [-0.56, 0.53], "nice": false, "zero": false}, "axis": null},
  "y": {"field": "y", "type": "quantitative", "scale": {"domain": [0, 1], "nice": false, "zero": false}, "axis": null}
 },
 "layer": [
  {"data": {"name": "bottom"}, "transform": [{"filter": "datum.panel === 'F'"}],
   "mark": {"type": "line", "interpolate": "monotone", "strokeWidth": 2.8, "color": "#111", "clip": true},
   "encoding": {
    "x": {"field": "x", "type": "quantitative", "scale": {"domain": [-0.56, 0.53], "nice": false, "zero": false}, "axis": {"orient": "bottom", "values": [-0.5,0,0.5], "tickSize": -5, "labelPadding": 30, "labelBaseline": "alphabetic", "labelExpr": "datum.value < 0 ? '-' + format(-datum.value, '.1f') : format(datum.value, '.1f')", "labelAlign": {"condition": {"test": "datum.value > 0.4", "value": "right"}, "value": "center"}, "labelOffset": {"condition": {"test": "datum.value > 0.4", "value": 7}, "value": 0}, "title": null}},
    "y": {"field": "y", "type": "quantitative", "scale": {"domain": [0, 1], "nice": false, "zero": false}, "axis": {"orient": "left", "values": [0.18,0.36,0.54,0.72,0.9], "tickSize": -4, "labels": false, "title": null}},
    "detail": {"field": "segment"}}},
  {"data": {"name": "arrows"}, "transform": [{"filter": "datum.panel === 'F'"}],
   "mark": {"type": "rule", "color": "#111"},
   "encoding": {
    "x": {"field": "x", "type": "quantitative", "scale": {"domain": [-0.56, 0.53], "nice": false, "zero": false}, "axis": {"orient": "top", "values": [-0.5,0,0.5], "tickSize": -5, "labels": false, "title": null}},
    "x2": {"field": "x2"}, "y2": {"field": "y2"}, "strokeWidth": {"field": "kind", "type": "ordinal", "scale": {"type": "ordinal", "domain": ["thin","medium","thick"], "range": [1.2, 1.7, 2.6]}, "legend": null}}},
  {"data": {"name": "arrows"}, "transform": [{"filter": "datum.panel === 'F'"}],
   "mark": {"type": "point", "shape": "M0,0L0.65,2.4L0,1.9L-0.65,2.4Z", "filled": true, "color": "#111", "opacity": 1, "strokeWidth": 0},
   "encoding": {"angle": {"field": "dir", "type": "ordinal", "scale": {"type": "ordinal", "domain": ["up","down","left","right","tilt9","tilt10","downleft","upright"], "range": [0,180,270,90,8.7,9.9,217.6,35]}, "legend": null}, "size": {"field": "kind", "type": "ordinal", "scale": {"type": "ordinal", "domain": ["thin","medium","thick"], "range": [70, 60, 110]}, "legend": null}}},
  {"data": {"name": "dots"}, "transform": [{"filter": "datum.panel === 'F'"}],
   "mark": {"type": "point", "shape": "circle", "filled": true, "color": "#111", "opacity": 1, "size": 45}},
  {"data": {"name": "labels"}, "transform": [{"filter": "datum.panel === 'F' && datum.role !== 'letter'"}],
   "mark": {"type": "text", "align": "left", "baseline": "alphabetic", "color": "#111"},
   "encoding": {"text": {"field": "text"}, "size": {"field": "role", "type": "ordinal", "scale": {"type": "ordinal", "domain": ["ratio","symbol","sub","sup","num"], "range": [18,21,15,13,17]}, "legend": null}}},
  {"data": {"name": "labels"}, "transform": [{"filter": "datum.panel === 'F' && datum.role === 'letter'"}],
   "mark": {"type": "text", "align": "left", "baseline": "alphabetic", "fontSize": 28, "fontWeight": "bold", "color": "#111"},
   "encoding": {"text": {"field": "text"}}}
 ],
 "resolve": {"axis": {"x": "independent", "y": "independent"}, "scale": {"size": "independent"}}
}
]
}
